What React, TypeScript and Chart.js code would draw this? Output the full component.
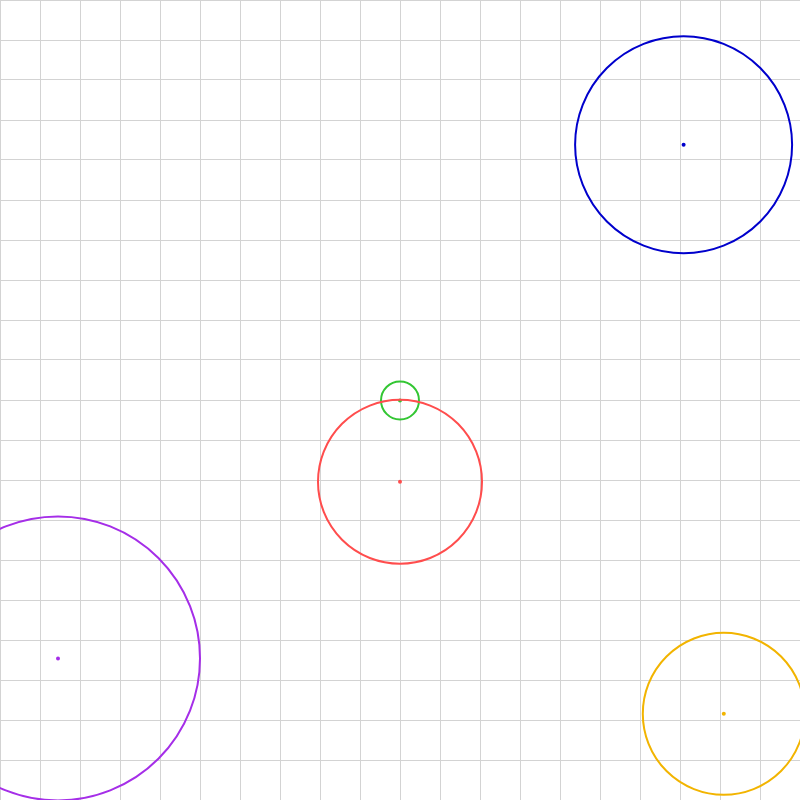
import React, { useEffect, useRef } from "react";
import { Chart, registerables } from "chart.js";

Chart.register(...registerables);

const bodies = ["Blue", "Red", "Green", "Purple", "Yellow"];
const centerX = [7.09, 0, 0, -8.55, 8.095];
const centerY = [6.38, -2.045, -0.01, -6.46, -7.845];
const radiusPx = [108.5, 82, 19, 142, 81];
const colors = ["#0000cc", "#ff4d4d", "#33c633", "#a52ee8", "#f2b400"];

const axisMin = -10;
const axisMax = 10;

export default function App() {
  const ref = useRef<HTMLCanvasElement | null>(null);
  useEffect(() => {
    if (!ref.current) return;
    const datasets: any[] = [];
    bodies.forEach((name, i) => {
      datasets.push({
        label: name + " orbit",
        data: [{ x: centerX[i], y: centerY[i], r: radiusPx[i] }],
        backgroundColor: "rgba(0,0,0,0)",
        borderColor: colors[i],
        borderWidth: 2,
        hoverRadius: 0,
      });
      datasets.push({
        label: name,
        data: [{ x: centerX[i], y: centerY[i], r: 2 }],
        backgroundColor: colors[i],
        borderColor: colors[i],
        borderWidth: 0,
        hoverRadius: 0,
      });
    });
    const chart = new Chart(ref.current, {
      type: "bubble",
      data: { datasets },
      options: {
        animation: false,
        responsive: false,
        events: [],
        layout: { padding: 0, autoPadding: false },
        plugins: { legend: { display: false }, tooltip: { enabled: false } },
        scales: {
          x: {
            type: "linear",
            min: axisMin,
            max: axisMax,
            ticks: { display: false, stepSize: 1 },
            grid: { color: "#d3d3d3", drawTicks: false, lineWidth: 1 },
            border: { display: false },
          },
          y: {
            type: "linear",
            min: axisMin,
            max: axisMax,
            ticks: { display: false, stepSize: 1 },
            grid: { color: "#d3d3d3", drawTicks: false, lineWidth: 1 },
            border: { display: false },
          },
        },
      },
    });
    return () => chart.destroy();
  }, []);
  return (
    <div style={{ position: "fixed", left: 0, top: 0, width: 800, height: 800, background: "#fff" }}>
      <canvas ref={ref} width={800} height={800} style={{ display: "block" }} />
    </div>
  );
}
